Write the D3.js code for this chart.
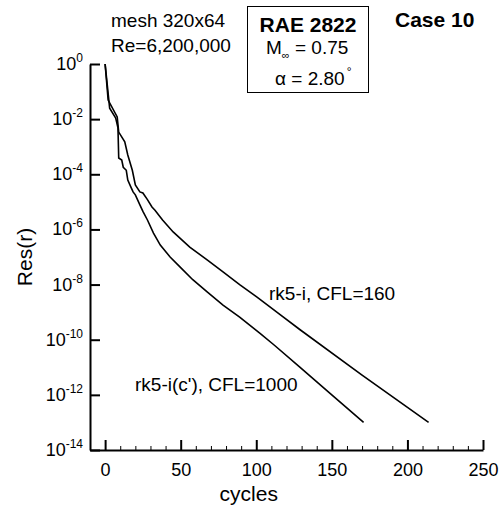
<!DOCTYPE html>
<html>
<head>
<meta charset="utf-8">
<script src="https://cdn.jsdelivr.net/npm/d3@7"></script>
<style>
  body { margin: 0; background: #fff; }
  svg { display: block; font-family: "Liberation Sans", Arial, Helvetica, sans-serif; }
</style>
</head>
<body>
<svg id="chart" width="499" height="508"></svg>
<script>
// convergence history
const cyclesRk5i = [0, 2, 8, 9, 13, 15, 18, 20, 23, 25, 28, 31, 33, 38, 45, 56, 67.5, 78, 89, 100.5, 116, 129, 170, 214];
const resRk5i = [1, 4.9e-2, 1.2e-2, 3.4e-3, 1.5e-3, 5.0e-4, 1.4e-4, 4.1e-5, 2.3e-5, 2.1e-5, 1.2e-5,
                 6.5e-6, 5.0e-6, 2.2e-6, 8.1e-7, 2.3e-7, 7.8e-8, 2.9e-8, 1.0e-8, 3.5e-9, 7.9e-10,
                 2.3e-10, 5.2e-12, 1.0e-13];

const cyclesRk5ic = [0, 3, 7, 8.5, 9, 11, 12, 14, 15, 17, 18.5, 20, 23, 25, 28, 32, 36.5, 43, 49.5,
                     58, 67.5, 78, 89, 102.5, 112, 129, 149, 171];
const resRk5ic = [1, 2.5e-2, 1.1e-2, 4.8e-3, 3.9e-4, 3.3e-4, 1.8e-4, 1.4e-4, 6.2e-5, 3.5e-5, 2.3e-5,
                  1.8e-5, 7.8e-6, 4.5e-6, 2.2e-6, 7.4e-7, 2.7e-7, 1.0e-7, 4.4e-8,
                  1.5e-8, 5.4e-9, 1.8e-9, 6.6e-10, 1.7e-10, 6.3e-11, 1.0e-11, 1.1e-12, 1.0e-13];

const xMajorTicks = [0, 50, 100, 150, 200, 250];
const xMinorTicks = [10, 20, 30, 40, 60, 70, 80, 90, 110, 120, 130, 140, 160, 170, 180, 190, 210, 220, 230, 240];
const yTickExps = [0, -2, -4, -6, -8, -10, -12, -14];

const svg = d3.select("#chart");
const font = 18;

const x = d3.scaleLinear().domain([-10, 250]).range([90, 483]);
const y = d3.scaleLog().domain([1e-14, 1]).range([450, 64]);

// x axis (ticks point up)
svg.append("g")
    .attr("transform", "translate(0,450)")
    .call(d3.axisBottom(x).tickValues(xMajorTicks).tickSizeInner(-10).tickSizeOuter(0).tickPadding(13))
    .call(g => g.selectAll("text").attr("font-size", font).attr("font-family", null).attr("fill", "#000"))
    .call(g => g.selectAll("path, line").attr("stroke", "#000").attr("stroke-width", 2));

svg.append("g")
    .attr("transform", "translate(0,450)")
    .call(d3.axisBottom(x).tickValues(xMinorTicks).tickSizeInner(-4).tickSizeOuter(0).tickFormat(""))
    .call(g => g.select(".domain").remove())
    .call(g => g.selectAll("line").attr("stroke", "#000").attr("stroke-width", 1));

// y axis (ticks point right, labels 10^n)
svg.append("g")
    .attr("transform", "translate(90,0)")
    .call(d3.axisLeft(y).tickValues(yTickExps.map(e => Math.pow(10, e))).tickSizeInner(-10).tickSizeOuter(0).tickFormat(""))
    .call(g => g.selectAll("path, line").attr("stroke", "#000").attr("stroke-width", 2));

yTickExps.forEach(e => {
    const t = svg.append("text")
        .attr("x", 83)
        .attr("y", y(Math.pow(10, e)) + 6)
        .attr("text-anchor", "end")
        .attr("font-size", font);
    t.append("tspan").text("10");
    t.append("tspan").attr("font-size", 12).attr("dy", -8).text(e);
});

// axis titles
svg.append("text")
    .attr("x", x(95))
    .attr("y", 501)
    .attr("text-anchor", "middle")
    .attr("font-size", 21)
    .text("cycles");

svg.append("text")
    .attr("transform", "translate(32,257) rotate(-90)")
    .attr("text-anchor", "middle")
    .attr("font-size", 21)
    .text("Res(r)");

// curves
const line = d3.line()
    .x(d => x(d[0]))
    .y(d => y(d[1]));

svg.append("path")
    .datum(d3.zip(cyclesRk5i, resRk5i))
    .attr("d", line)
    .attr("fill", "none")
    .attr("stroke", "#000")
    .attr("stroke-width", 1.6);

svg.append("path")
    .datum(d3.zip(cyclesRk5ic, resRk5ic))
    .attr("d", line)
    .attr("fill", "none")
    .attr("stroke", "#000")
    .attr("stroke-width", 1.6);

// curve labels
svg.append("text")
    .attr("x", 269).attr("y", 300)
    .attr("font-size", 19)
    .text("rk5-i, CFL=160");

svg.append("text")
    .attr("x", 135).attr("y", 391)
    .attr("font-size", 19)
    .text("rk5-i(c'), CFL=1000");

// annotations
svg.append("text").attr("x", 111).attr("y", 27).attr("font-size", 19).text("mesh 320x64");
svg.append("text").attr("x", 111).attr("y", 52).attr("font-size", 19).text("Re=6,200,000");

svg.append("rect")
    .attr("x", 247.5).attr("y", 6.5)
    .attr("width", 121).attr("height", 86)
    .attr("fill", "none").attr("stroke", "#000").attr("stroke-width", 1);

svg.append("text")
    .attr("x", 308).attr("y", 32)
    .attr("text-anchor", "middle")
    .attr("font-size", 21).attr("font-weight", "bold")
    .text("RAE 2822");

const mach = svg.append("text").attr("x", 266).attr("y", 54).attr("font-size", 19);
mach.append("tspan").text("M");
mach.append("tspan").attr("font-size", 11).attr("dy", 5).text("∞");
mach.append("tspan").attr("dy", -5).text(" = 0.75");

const alpha = svg.append("text").attr("x", 275).attr("y", 85).attr("font-size", 19);
alpha.append("tspan").text("α = 2.80");
alpha.append("tspan").attr("font-size", 12).attr("dy", -9).attr("dx", 2).text("°");

svg.append("text")
    .attr("x", 395).attr("y", 27)
    .attr("font-size", 21).attr("font-weight", "bold")
    .text("Case 10");
</script>
</body>
</html>
